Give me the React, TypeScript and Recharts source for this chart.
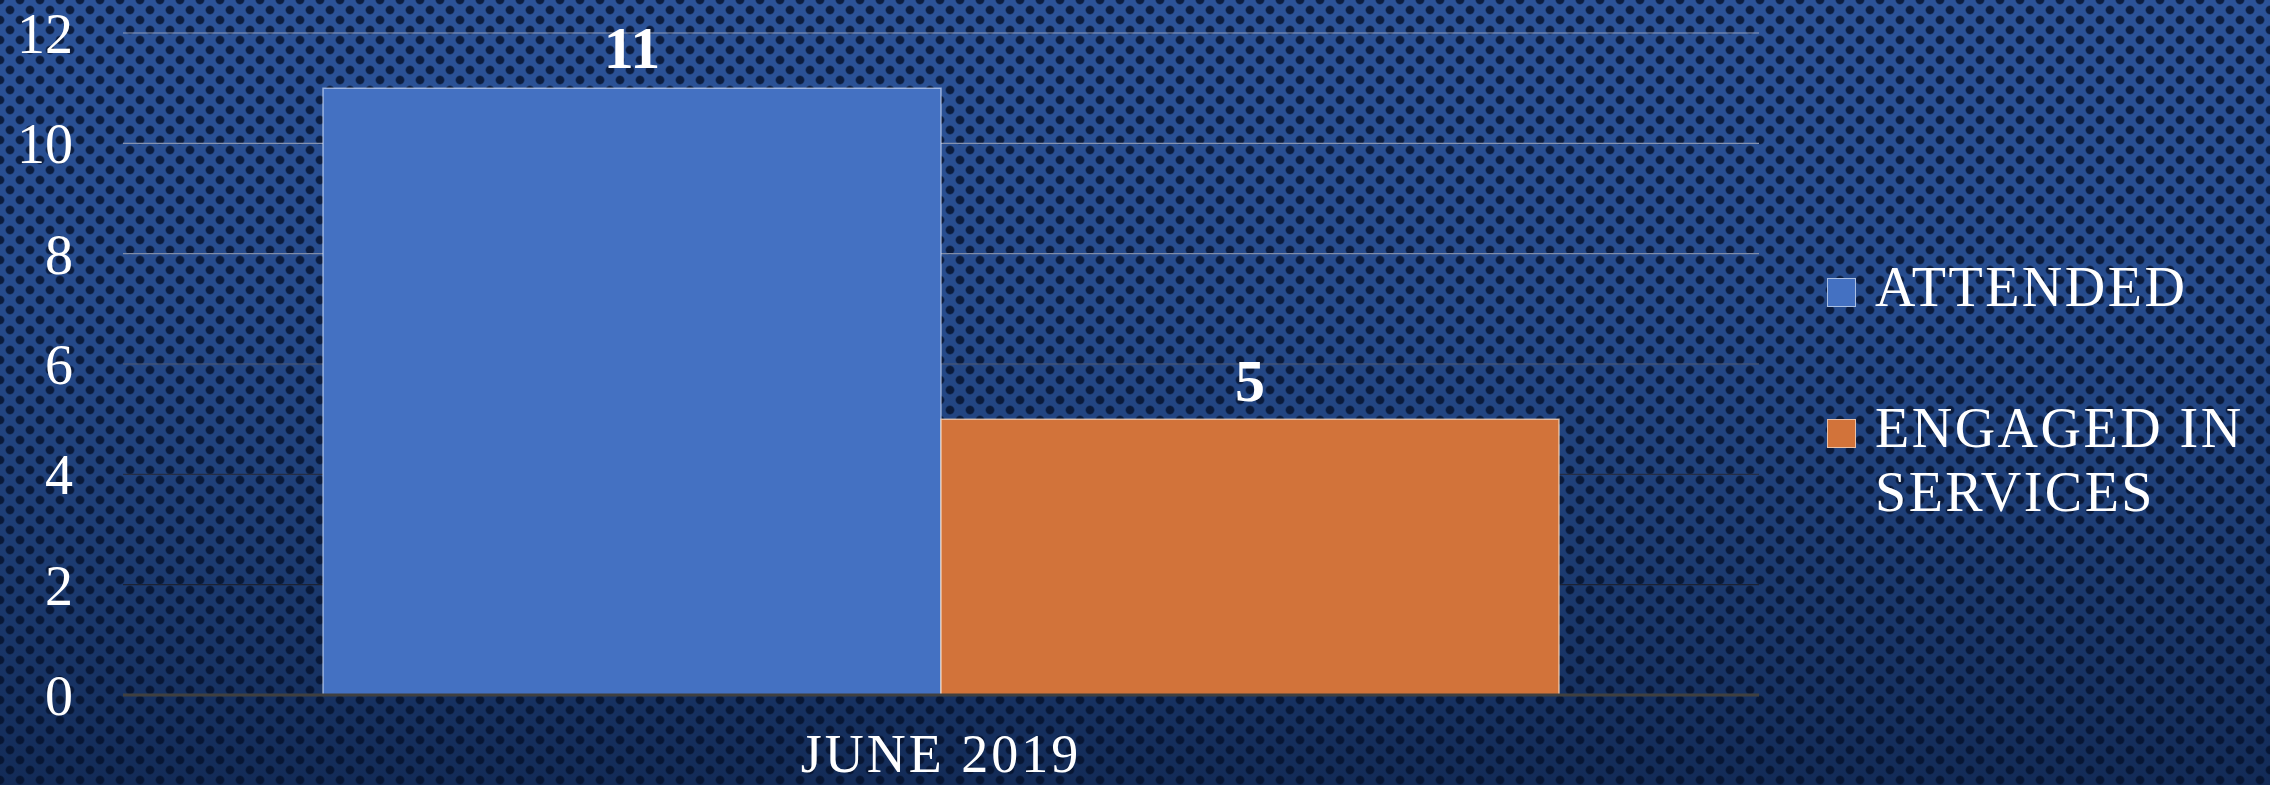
import React from "react";
import {
  BarChart,
  Bar,
  XAxis,
  YAxis,
  CartesianGrid,
  Legend,
  LabelList,
} from "recharts";

const categories = ["JUNE 2019"];
const attended = [11];
const engaged = [5];
const seriesNames = ["ATTENDED", "ENGAGED IN SERVICES"];
const yTicks = [0, 2, 4, 6, 8, 10, 12];

const FONT = '"Liberation Serif", "Times New Roman", serif';

const data = categories.map((name, i) => ({
  name,
  attended: attended[i],
  engaged: engaged[i],
}));

// dotted navy backdrop, darker toward the bottom
const pageStyle: React.CSSProperties = {
  position: "absolute",
  left: 0,
  top: 0,
  width: 2270,
  height: 785,
  backgroundColor: "#1d3b72",
  backgroundImage: [
    "radial-gradient(circle, rgba(4,16,42,0.8) 0, rgba(4,16,42,0.8) 3.5px, rgba(4,16,42,0) 5px)",
    "radial-gradient(circle, rgba(4,16,42,0.8) 0, rgba(4,16,42,0.8) 3.5px, rgba(4,16,42,0) 5px)",
    "linear-gradient(to bottom, #2c5398 0%, #264b8c 40%, #1c3b71 72%, #132b57 100%)",
  ].join(", "),
  backgroundSize: "20px 20px, 20px 20px, 100% 100%",
  backgroundPosition: "0 0, 10px 10px, 0 0",
};

const renderLegend = (props: any) => {
  const { payload } = props;
  return (
    <div>
      {(payload || []).map((entry: any, i: number) => (
        <div
          key={entry.value}
          style={{
            position: "relative",
            paddingLeft: 48,
            marginTop: i ? 77 : 0,
            width: 390,
            fontFamily: FONT,
            fontSize: 56,
            lineHeight: "64px",
            letterSpacing: 2.5,
            color: "#ffffff",
          }}
        >
          <span
            style={{
              position: "absolute",
              left: 0,
              top: 23,
              width: 27,
              height: 27,
              background: entry.color,
              border: "1px solid rgba(255,255,255,0.55)",
            }}
          />
          {entry.value}
        </div>
      ))}
    </div>
  );
};

const App = () => {
  return (
    <div style={pageStyle}>
      <BarChart
        width={2270}
        height={785}
        data={data}
        margin={{ top: 33, right: 511, left: 0, bottom: 0 }}
        barCategoryGap={200}
        barGap={0}
        style={{ fontFamily: FONT }}
      >
        <defs>
          <linearGradient id="gridFade" gradientUnits="userSpaceOnUse" x1="0" y1="33" x2="0" y2="695">
            <stop offset="0%" stopColor="#8d9ab8" />
            <stop offset="35%" stopColor="#7f8aa4" />
            <stop offset="50%" stopColor="#4e5870" />
            <stop offset="62%" stopColor="#283048" />
            <stop offset="100%" stopColor="#141824" />
          </linearGradient>
        </defs>
        <CartesianGrid vertical={false} stroke="url(#gridFade)" strokeWidth={1.2} />
        <XAxis
          dataKey="name"
          height={90}
          axisLine={{ stroke: "#404040", strokeWidth: 3 }}
          tickLine={false}
          tickSize={0}
          tickMargin={39}
          tick={{ fill: "#ffffff", fontSize: 54, fontFamily: FONT, letterSpacing: 3 }}
        />
        <YAxis
          width={123}
          domain={[0, 12]}
          ticks={yTicks}
          interval={0}
          axisLine={false}
          tickLine={false}
          tickSize={0}
          tickMargin={50}
          tick={{ fill: "#ffffff", fontSize: 56, fontFamily: FONT }}
        />
        <Legend
          layout="vertical"
          align="center"
          verticalAlign="middle"
          content={renderLegend}
          wrapperStyle={{ left: 1827, top: 255, width: 443, height: "auto" }}
        />
        <Bar
          dataKey="attended"
          name={seriesNames[0]}
          fill="#4471c2"
          stroke="rgba(220,232,255,0.6)"
          strokeWidth={1.5}
          isAnimationActive={false}
        >
          <LabelList
            dataKey="attended"
            position="top"
            offset={20}
            fill="#ffffff"
            fontSize={60}
            fontWeight="bold"
            fontFamily={FONT}
          />
        </Bar>
        <Bar
          dataKey="engaged"
          name={seriesNames[1]}
          fill="#d2733a"
          stroke="rgba(255,225,200,0.7)"
          strokeWidth={1.5}
          isAnimationActive={false}
        >
          <LabelList
            dataKey="engaged"
            position="top"
            offset={18}
            fill="#ffffff"
            fontSize={60}
            fontWeight="bold"
            fontFamily={FONT}
          />
        </Bar>
      </BarChart>
    </div>
  );
};

export default App;
